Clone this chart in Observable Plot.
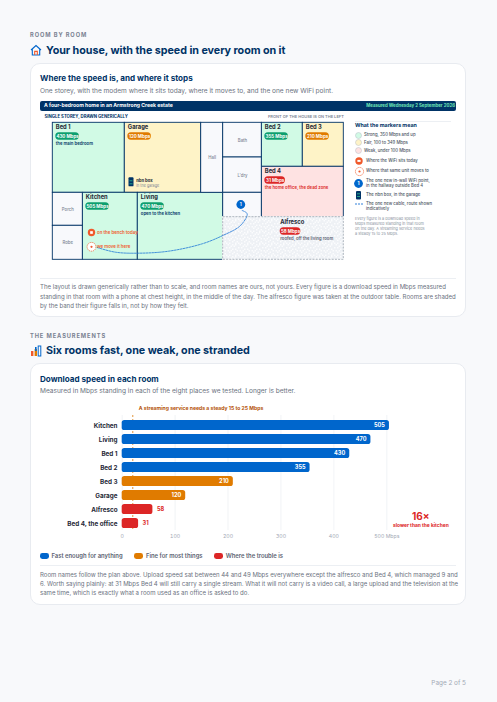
<!DOCTYPE html>
<html lang="en"><head><meta charset="utf-8"><title>Your house, with the speed in every room on it</title>
<script src="https://cdn.jsdelivr.net/npm/d3@7"></script>
<script src="https://cdn.jsdelivr.net/npm/@observablehq/plot@0.6"></script>
<style>
html,body{margin:0;padding:0;background:#f8f9fb}
body{width:497px;height:702px;position:relative;overflow:hidden;font-family:Inter,"Noto Sans",sans-serif;color:#1f2937}
.t{position:absolute;white-space:nowrap;line-height:1;transform:translateY(-50%)}
.eyebrow{left:30px;font-size:5.7px;font-weight:700;letter-spacing:.16em;color:#7a8292}
.h2{left:46px;font-size:10.75px;font-weight:700;color:#003366;letter-spacing:-.005em}
.h3{left:40px;font-size:8.1px;font-weight:700;color:#003366}
.sub{left:40px;font-size:6.55px;color:#6b7280}
.cap{left:40px;font-size:6.05px;color:#6b7280}
.card{position:absolute;left:30px;width:436px;background:#fff;border:.7px solid #e8ebf0;border-radius:10px;box-sizing:border-box}
.hr{position:absolute;left:40px;width:416px;height:.7px;background:#eceff3}
.bar{position:absolute;left:40px;top:101px;width:416px;height:10px;background:#003366;border-radius:2px}
.plot{position:absolute}
.plot svg{display:block}
.lg{left:364px;font-size:4.25px;color:#4b5563;font-weight:500}
.ic{position:absolute;display:block;overflow:visible}
.note{left:355px;font-size:3.85px;color:#8b93a1}
.key{font-size:5.9px;font-weight:600;color:#5b6372}
.sw{position:absolute;width:8.5px;height:6.2px;border-radius:2.4px;top:552.6px}
</style></head>
<body>
<div class="t eyebrow" style="top:34.5px">ROOM BY ROOM</div>
<svg class="ic" style="left:30px;top:44px" width="12" height="12" viewBox="0 0 12 12"><path d="M1 6 6 1.5 11 6M2.3 5.2V11h7.4V5.2" fill="none" stroke="#0066cc" stroke-width="1.1"/><path d="M4.7 11V7.4h2.6V11" fill="none" stroke="#f0592b" stroke-width="1.1"/></svg>
<div class="t h2" style="top:51px">Your house, with the speed in every room on it</div>
<div class="card" style="top:63px;height:254px"></div>
<div class="t h3" style="top:78px">Where the speed is, and where it stops</div>
<div class="t sub" style="top:91px">One storey, with the modem where it sits today, where it moves to, and the one new WiFi point.</div>
<div class="bar"></div>
<div class="t" style="left:44px;top:105.8px;font-size:5.1px;font-weight:700;color:#fff">A four-bedroom home in an Armstrong Creek estate</div>
<div class="t" style="right:42px;top:105.8px;font-size:4.4px;font-weight:700;color:#6ee7b7">Measured Wednesday 2 September 2026</div>
<div class="plot" id="plan" style="left:40px;top:112px"></div>

<div class="hr" style="left:355px;width:96px;top:121px"></div>
<div class="t" style="left:355px;top:126px;font-size:5.3px;font-weight:700;color:#003366">What the markers mean</div>
<div id="legend"></div>

<div class="hr" style="top:278px"></div>
<div class="t cap" style="top:287px">The layout is drawn generically rather than to scale, and room names are ours, not yours. Every figure is a download speed in Mbps measured</div>
<div class="t cap" style="top:297px">standing in that room with a phone at chest height, in the middle of the day. The alfresco figure was taken at the outdoor table. Rooms are shaded</div>
<div class="t cap" style="top:306px">by the band their figure falls in, not by how they felt.</div>

<div class="t eyebrow" style="top:335.5px">THE MEASUREMENTS</div>
<svg class="ic" style="left:30px;top:345px" width="12" height="12" viewBox="0 0 12 12"><rect x="1" y="6" width="2.4" height="5" fill="#f0592b"/><rect x="4.6" y="4" width="2.4" height="7" fill="#e07b00"/><rect x="8.2" y="1" width="2.6" height="10" fill="none" stroke="#0066cc"/><rect x="5" y="2" width="1.6" height="4" fill="#0066cc"/></svg>
<div class="t h2" style="top:351px">Six rooms fast, one weak, one stranded</div>
<div class="card" style="top:363px;height:242px"></div>
<div class="t h3" style="top:379px">Download speed in each room</div>
<div class="t sub" style="top:391px">Measured in Mbps standing in each of the eight places we tested. Longer is better.</div>
<div class="plot" id="bars" style="left:40px;top:402px"></div>
<div id="keys"></div>
<div class="hr" style="top:565px"></div>
<div class="t cap" style="top:575px">Room names follow the plan above. Upload speed sat between 44 and 49 Mbps everywhere except the alfresco and Bed 4, which managed 9 and</div>
<div class="t cap" style="top:584px">6. Worth saying plainly: at 31 Mbps Bed 4 will still carry a single stream. What it will not carry is a video call, a large upload and the television at the</div>
<div class="t cap" style="top:593px">same time, which is exactly what a room used as an office is asked to do.</div>
<div class="t" style="right:31px;top:683px;font-size:6.4px;color:#a3a9b5">Page 2 of 5</div>

<script>
// ---- values ----
const roomNames = ["Kitchen","Living","Bed 1","Bed 2","Bed 3","Garage","Alfresco","Bed 4, the office"];
const downloadMbps = [505,470,430,355,210,120,58,31];
const axisTicks = [0,100,200,300,400,500];
const streamingMark = [20];
const bandNames = ["Fast enough for anything","Fine for most things","Where the trouble is"];
const bandLimits = [350,100,0];
const barColours = ["#0066cc","#e07b00","#dc2626"];
const roomTints = ["#d1fae5","#fef3c7","#fee2e2"];
const neutralTint = "#f8f9fc";
const navy = "#003366";

const bandOf = v => bandLimits.findIndex(l => v >= l);
const speedOf = n => downloadMbps[roomNames.findIndex(r => r.startsWith(n))];

// Floor plan, in plan units: wall lines
const wallX = {a:0,b:30,c:72,d:85,e:148.4,f:170.4,g:209,h:250,i:291};
const wallY = {a:0,b:34.7,c:44,d:70,e:94.4,f:103,g:137};
const planRooms = [
 ["Bed 1","a","c","a","d","the main bedroom"],
 ["Garage","c","e","a","d",""],
 ["Bed 2","g","h","a","c",""],
 ["Bed 3","h","i","a","c",""],
 ["Bed 4","g","i","c","e","the home office, the dead zone"],
 ["Kitchen","b","d","d","g",""],
 ["Living","d","f","d","g","open to the kitchen"]
].map(([name,x1,x2,y1,y2,note]) => ({name,x1:wallX[x1],x2:wallX[x2],y1:wallY[y1],y2:wallY[y2],note}));
const planPlain = [
 ["Hall","e","f","a","d"],["Bath","f","g","a","b"],["L'dry","f","g","b","d"],
 ["","f","g","d","e"],["Porch","a","b","d","f"],["Robe","a","b","f","g"]
].map(([name,x1,x2,y1,y2]) => ({name,x1:wallX[x1],x2:wallX[x2],y1:wallY[y1],y2:wallY[y2]}));
const alfresco = {name:"Alfresco",x1:wallX.f,x2:wallX.i,y1:wallY.e,y2:wallY.g,note:"roofed, off the living room"};
alfresco.lx = 227.4;
planRooms.forEach(r => r.lx = r.x1 + 3);
const labelled = [...planRooms, alfresco];
labelled.forEach(r => {
  r.mbps = speedOf(r.name);
  r.band = bandOf(r.mbps);
  r.pill = r.mbps + " Mbps";
  r.top = r.y1 + (r === alfresco ? .6 : 0);
});
const cableRoute = [[44.4,124.7],[62.7,129.4],[85,130.4],[115.7,128.4],[149.4,121],[170,112.7],[187.7,102.7],[194.4,91],[189.4,87.7]];
const modemToday = {x:38.7,y:109.7,label:"on the bench today"};
const modemMoved = {x:38.7,y:124,label:"we move it here"};
const wifiPoint = {x:188,y:81.7,label:"1"};
const nbn = {x1:76.2,x2:81.2,y1:55,y2:64,name:"nbn box",where:"in the garage"};

const sans = 'Inter,"Noto Sans",sans-serif';
const planMarks = [
  Plot.rect(planRooms,{x1:"x1",x2:"x2",y1:"y1",y2:"y2",fill:d=>roomTints[d.band],stroke:navy,strokeWidth:.9}),
  Plot.rect(planPlain,{x1:"x1",x2:"x2",y1:"y1",y2:"y2",fill:neutralTint,stroke:navy,strokeWidth:.9}),
  Plot.rect([alfresco],{x1:"x1",x2:"x2",y1:"y1",y2:"y2",fill:"#fff",stroke:"#fff",strokeWidth:1.2}),
  Plot.rect([alfresco],{x1:"x1",x2:"x2",y1:"y1",y2:"y2",fill:"url(#noise)",stroke:"#9aa3af",strokeWidth:.8,strokeDasharray:"2 1.2"}),
  Plot.text(planPlain.filter(d=>d.name),{x:d=>(d.x1+d.x2)/2,y:d=>(d.y1+d.y2)/2,text:"name",fill:"#7d8694",fontSize:4.3,fontWeight:500}),
  Plot.text(labelled,{x:"lx",y:d=>d.top+4.7,text:"name",textAnchor:"start",fill:"#1f2937",fontSize:5.8,fontWeight:700}),
  Plot.rect(labelled,{x1:"lx",x2:d=>d.lx+d.pill.length*2.95,y1:d=>d.top+10,y2:d=>d.top+17.4,rx:3.6,fill:d=>["#0e9f6e",barColours[1],barColours[2]][d.band]}),
  Plot.text(labelled,{x:d=>d.lx+d.pill.length*1.475,y:d=>d.top+13.8,text:"pill",fill:"#fff",fontSize:4.5,fontWeight:700}),
  Plot.text(labelled.filter(d=>d.note),{x:"lx",y:d=>d.top+21,text:"note",textAnchor:"start",fontSize:4.25,fontWeight:600,fill:d=>d.band===2&&d!==alfresco?barColours[2]:d===alfresco?"#5b6372":navy}),
  Plot.line(cableRoute,{x:d=>d[0],y:d=>d[1],curve:"catmull-rom",stroke:"#1a73d6",strokeWidth:.8,strokeDasharray:"2 1.1"}),
  // modem today
  Plot.dot([modemToday],{x:"x",y:"y",r:3.7,fill:"#f0592b"}),
  Plot.dot([modemToday],{x:"x",y:"y",r:1.5,symbol:"square",fill:"#fff"}),
  Plot.text([modemToday],{x:d=>d.x+5.5,y:"y",text:"label",textAnchor:"start",fill:"#f0592b",fontSize:4.4,fontWeight:600}),
  // modem moved
  Plot.dot([modemMoved],{x:"x",y:"y",r:4.4,fill:"#fff",stroke:"#f0592b",strokeWidth:.8,strokeDasharray:"1.2 .9"}),
  Plot.dot([modemMoved],{x:"x",y:"y",r:1.1,fill:"#f0592b"}),
  Plot.text([modemMoved],{x:d=>d.x+5.5,y:"y",text:"label",textAnchor:"start",fill:"#f0592b",fontSize:4.4,fontWeight:600}),
  // new WiFi point
  Plot.dot([wifiPoint],{x:"x",y:"y",r:4.4,fill:"#0066cc"}),
  Plot.text([wifiPoint],{x:"x",y:"y",text:"label",fill:"#fff",fontSize:4.4,fontWeight:700}),
  // nbn box
  Plot.rect([nbn],{x1:"x1",x2:"x2",y1:"y1",y2:"y2",rx:.9,fill:navy}),
  Plot.ruleY([nbn],{x1:d=>d.x1+1,x2:d=>d.x2-1,y:d=>d.y1+3,stroke:"#34d399",strokeWidth:.7}),
  Plot.ruleY([nbn],{x1:d=>d.x1+1,x2:d=>d.x2-1,y:d=>d.y1+6,stroke:"#34d399",strokeWidth:.7}),
  Plot.text([nbn],{x:d=>d.x2+2.2,y:d=>d.y1+2.5,text:"name",textAnchor:"start",fill:"#1f2937",fontSize:4.2,fontWeight:700}),
  Plot.text([nbn],{x:d=>d.x2+2.2,y:d=>d.y1+7.7,text:"where",textAnchor:"start",fill:"#7d8694",fontSize:3.7}),
  // headers above the plan
  Plot.text(["SINGLE STOREY, DRAWN GENERICALLY"],{x:[-8.3],y:[-6.3],text:d=>d,textAnchor:"start",fill:navy,fontSize:4.3,fontWeight:700}),
  Plot.text(["FRONT OF THE HOUSE IS ON THE LEFT"],{x:[291],y:[-6.3],text:d=>d,textAnchor:"end",fill:"#7d8694",fontSize:4,fontWeight:600})
];
const planSvg = Plot.plot({
  width:305,height:150,margin:0,
  style:{background:"transparent",fontFamily:sans,overflow:"visible"},
  x:{domain:[-12.3,292.7],range:[0,305],axis:null},
  y:{domain:[-10.3,139.7],range:[0,150],axis:null},
  color:{type:"identity"},
  marks:planMarks
});
const noiseCells = [[0,0],[2,0],[5,0],[7,1],[1,1],[4,2],[6,2],[0,3],[2,3],[3,4],[7,4],[5,4],[1,5],[6,5],[0,6],[3,6],[4,7],[2,7],[6,7]];
const defs = d3.select(planSvg).insert("defs",":first-child");
const pat = defs.append("pattern").attr("id","noise").attr("patternUnits","userSpaceOnUse").attr("width",12).attr("height",12);
pat.append("rect").attr("width",12).attr("height",12).attr("fill","#eef1f5");
pat.selectAll("rect.c").data(noiseCells).join("rect").attr("class","c").attr("x",d=>d[0]*1.5).attr("y",d=>d[1]*1.5).attr("width",1.5).attr("height",1.5).attr("fill","#fbfcfd");
document.getElementById("plan").append(planSvg);

// Marker legend
const legendHost = document.getElementById("legend");
const svgNS = (html,l,t,w,h) => `<svg class="ic" style="left:${l}px;top:${t}px" width="${w}" height="${h}" viewBox="0 0 ${w} ${h}">${html}</svg>`;
const tintLabels = ["Strong, 350 Mbps and up","Fair, 100 to 349 Mbps","Weak, under 100 Mbps"];
const tintY = [135,142.7,150.7];
let lg = "";
tintLabels.forEach((t,i)=>{
  lg += svgNS(`<circle cx="3.5" cy="3.5" r="3" fill="${roomTints[i]}" stroke="#b7bdc6" stroke-width=".5"/>`,355.2,tintY[i]-3.5,7,7);
  lg += `<div class="t lg" style="top:${tintY[i]}px">${t}</div>`;
});
lg += svgNS(`<circle cx="4" cy="4" r="3.7" fill="#f0592b"/><rect x="2.4" y="2.9" width="3.2" height="2" fill="#fff"/>`,355,157,8,8);
lg += `<div class="t lg" style="left:366px;top:161px">Where the WiFi sits today</div>`;
lg += svgNS(`<circle cx="4.5" cy="4.5" r="4.1" fill="#fff" stroke="#f0592b" stroke-width=".8" stroke-dasharray="1.2 .9"/><circle cx="4.5" cy="4.5" r="1.1" fill="#f0592b"/>`,354.5,166.5,9,9);
lg += `<div class="t lg" style="left:366px;top:171px">Where that same unit moves to</div>`;
lg += svgNS(`<circle cx="4.5" cy="4.5" r="4.4" fill="#0066cc"/><text x="4.5" y="6.1" text-anchor="middle" fill="#fff" font-size="4.6" font-weight="700">1</text>`,354.2,178.5,9,9);
lg += `<div class="t lg" style="left:366px;top:180.5px">The one new in-wall WiFi point,</div><div class="t lg" style="left:366px;top:185.8px">in the hallway outside Bed 4</div>`;
lg += svgNS(`<rect width="5" height="8.5" rx="1" fill="${navy}"/><rect x="1" y="2.5" width="3" height=".7" fill="#34d399"/><rect x="1" y="5" width="3" height=".7" fill="#34d399"/>`,356.2,191,5,8.5);
lg += `<div class="t lg" style="left:366px;top:195.4px">The nbn box, in the garage</div>`;
lg += svgNS(`<line x1="0" y1="1" x2="9" y2="1" stroke="#1a73d6" stroke-width=".9" stroke-dasharray="2 1"/>`,355,203,9,2);
lg += `<div class="t lg" style="left:366px;top:204px">The one new cable, route shown</div><div class="t lg" style="left:366px;top:209.3px">indicatively</div>`;
["Every figure is a download speed in","Mbps measured standing in that room","on the day. A streaming service needs","a steady 15 to 25 Mbps."].forEach((t,i)=>{
  lg += `<div class="t note" style="top:${219.3+i*5}px">${t}</div>`;
});
legendHost.innerHTML = lg;

// Bar chart
const rows = roomNames.map((room,i)=>({room,mbps:downloadMbps[i],band:bandOf(downloadMbps[i])}));
const barsSvg = Plot.plot({
  width:416,height:138,
  marginLeft:81.7,marginRight:69.7,marginTop:13,marginBottom:10,
  style:{background:"transparent",fontFamily:sans,overflow:"visible"},
  x:{domain:[0,500],range:[81.7,346.3]},
  y:{domain:roomNames,range:[13.4,130.2],paddingInner:.3,paddingOuter:.15},
  color:{type:"identity"},
  marks:[
    Plot.ruleX(axisTicks,{stroke:"#edf0f4",strokeWidth:.8}),
    Plot.ruleX(streamingMark,{stroke:"#d97706",strokeWidth:.8,strokeDasharray:"2 2"}),
    Plot.barX(rows,{x:"mbps",y:"room",fill:d=>barColours[d.band],rx:2.6}),
    Plot.text(rows.filter(d=>d.mbps>=100),{x:"mbps",y:"room",text:d=>String(d.mbps),textAnchor:"end",dx:-4.5,fill:"#fff",fontSize:5.6,fontWeight:700}),
    Plot.text(rows.filter(d=>d.mbps<100),{x:"mbps",y:"room",text:d=>String(d.mbps),textAnchor:"start",dx:4,fill:barColours[2],fontSize:5.6,fontWeight:700}),
    Plot.axisY({anchor:"left",tickSize:0,tickPadding:4.7,label:null,fill:"#1f2937",fontSize:6.3,fontWeight:700}),
    Plot.axisX({anchor:"bottom",ticks:axisTicks,tickFormat:d=>d===500?"500 Mbps":String(d),tickSize:0,tickPadding:3.5,label:null,fill:"#a3a9b5",fontSize:5.2}),
    Plot.text(["A streaming service needs a steady 15 to 25 Mbps"],{frameAnchor:"top-left",lineAnchor:"middle",dx:16.6,dy:-7,text:d=>d,textAnchor:"start",fill:"#b45309",fontSize:5.1,fontWeight:700}),
    Plot.text(["16×"],{frameAnchor:"top-left",lineAnchor:"middle",dx:298.6,dy:101,text:d=>d,textAnchor:"middle",fill:barColours[2],fontSize:10,fontWeight:700}),
    Plot.text(["slower than the kitchen"],{frameAnchor:"top-left",lineAnchor:"middle",dx:298.6,dy:110,text:d=>d,textAnchor:"middle",fill:barColours[2],fontSize:4.9,fontWeight:700})
  ]
});
document.getElementById("bars").append(barsSvg);

const keyX = [40,134.3,214], keyTextX = [51.5,146,225.7];
document.getElementById("keys").innerHTML = bandNames.map((n,i)=>
  `<div class="sw" style="left:${keyX[i]}px;background:${barColours[i]}"></div><div class="t key" style="left:${keyTextX[i]}px;top:555.7px">${n}</div>`).join("");
</script>
</body></html>
